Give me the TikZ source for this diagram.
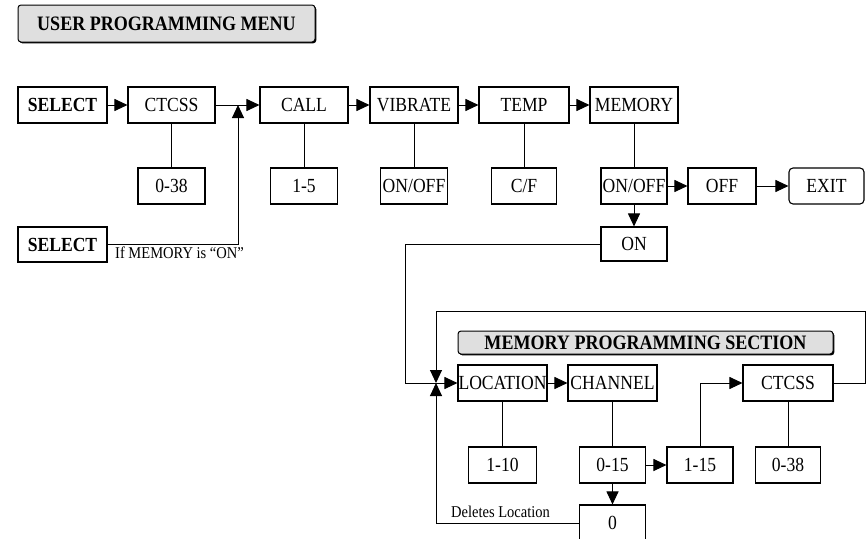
\documentclass[tikz,border=0pt]{standalone}
\usepackage{fontspec}
\setmainfont{Liberation Serif}[FakeStretch=0.88]
\usetikzlibrary{arrows.meta,shadows}
\begin{document}
\begin{tikzpicture}[x=1pt,y=-1pt,
  box/.style={draw, line width=1.1pt, inner sep=0pt, minimum height=36pt, fill=white,
    font=\fontsize{20}{23}\selectfont},
  bbox/.style={box, font=\bfseries\fontsize{20}{23}\selectfont},
  arr/.style={-{Triangle[length=13pt,width=12pt]}, line width=1pt},
  ln/.style={line width=1pt},
  title/.style={draw, fill=gray!25, rounded corners=3pt, line width=1pt, inner sep=0pt,
    font=\bfseries\fontsize{20.5}{23}\selectfont,
    general shadow={fill=black, shadow xshift=1.3pt, shadow yshift=-1.3pt}},
  lbl/.style={anchor=west, inner sep=0pt, font=\fontsize{16.5}{18}\selectfont}]
\useasboundingbox (0,0) rectangle (867,538);

% title
\node[title, minimum width=297pt, minimum height=37pt] (t1) at (166.5,23.5) {USER PROGRAMMING MENU};

% row 1
\node[bbox, minimum width=89pt] (sel1) at (62.5,105) {SELECT};
\node[box, minimum width=87pt] (ct1) at (171.5,105) {CTCSS};
\node[box, minimum width=88pt] (call) at (304,105) {CALL};
\node[box, minimum width=88pt] (vib) at (414,105) {VIBRATE};
\node[box, minimum width=90pt] (temp) at (524,105) {TEMP};
\node[box, minimum width=88pt] (mem) at (634,105) {MEMORY};

% row 2
\node[box, minimum width=67pt] (r038) at (171.5,186) {0-38};
\node[box, minimum width=67pt] (r15) at (304,186) {1-5};
\node[box, minimum width=67pt] (vonoff) at (414,186) {ON/OFF};
\node[box, minimum width=65pt] (cf) at (524,186) {C/F};
\node[box, minimum width=66pt] (monoff) at (634,186) {ON/OFF};
\node[box, minimum width=68pt] (off) at (722,186) {OFF};
\node[box, minimum width=75pt, rounded corners=4pt] (exit) at (826.5,186) {EXIT};

\node[box, minimum width=66pt, minimum height=34pt] (on) at (634,244) {ON};
\node[bbox, minimum width=89pt, minimum height=35pt] (sel2) at (62.5,244.5) {SELECT};
\node[lbl] (iflbl) at (115,253) {If MEMORY is “ON”};

\coordinate (K) at (238,105);

% row 1 connectors
\draw[arr] (sel1) -- (ct1);
\draw[arr] (ct1) -- (call);
\draw[arr] (call) -- (vib);
\draw[arr] (vib) -- (temp);
\draw[arr] (temp) -- (mem);
\draw[arr] (sel2.east) -| (K);
\draw[ln] (ct1) -- (r038);
\draw[ln] (call) -- (r15);
\draw[ln] (vib) -- (vonoff);
\draw[ln] (temp) -- (cf);
\draw[ln] (mem) -- (monoff);
\draw[arr] (monoff) -- (off);
\draw[arr] (off) -- (exit);
\draw[arr] (monoff) -- (on);

% memory section
\node[title, minimum width=375pt, minimum height=23pt] (t2) at (645.5,342.5) {MEMORY PROGRAMMING SECTION};

\node[box, minimum width=89pt] (loc) at (502.5,383) {LOCATION};
\node[box, minimum width=89pt] (chan) at (612.5,383) {CHANNEL};
\node[box, minimum width=90pt] (ct2) at (788,383) {CTCSS};

\node[box, minimum width=68pt] (r110) at (502.5,465) {1-10};
\node[box, minimum width=66pt] (r015) at (612.5,465) {0-15};
\node[box, minimum width=66pt] (r115) at (700,465) {1-15};
\node[box, minimum width=65pt] (r038b) at (788,465) {0-38};
\node[box, minimum width=66pt] (zero) at (612.5,523) {0};
\node[lbl] (dellbl) at (451,512) {Deletes Location};

\coordinate (J) at (436,383);

\draw[ln] (on.west) -| (405,383) -- (J);
\draw[arr] (J) -- (loc.west);
\draw[arr] (ct2.east) -- (865,383) |- (436,311) -- (J);
\draw[arr] (zero.west) -| (J);
\draw[arr] (loc) -- (chan);
\draw[ln] (loc) -- (r110);
\draw[ln] (chan) -- (r015);
\draw[ln] (ct2) -- (r038b);
\draw[arr] (r015) -- (r115);
\draw[arr] (r015) -- (zero);
\draw[arr] (r115.north) |- (ct2.west);
\end{tikzpicture}
\end{document}
